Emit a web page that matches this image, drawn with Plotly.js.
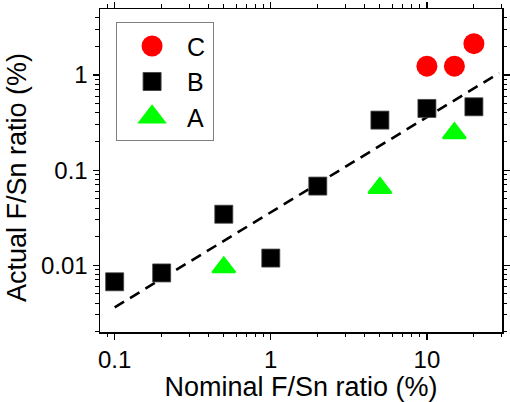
<!DOCTYPE html>
<html>
<head>
<meta charset="utf-8">
<script src="https://cdn.plot.ly/plotly-3.0.1.min.js"></script>
<style>
  html, body { margin: 0; padding: 0; background: #fff; }
  #chart { width: 510px; height: 402px; }
</style>
</head>
<body>
<div id="chart"></div>
<script>
// Data
const seriesNames = ["C", "B", "A"];
const xC = [10, 15, 20];
const yC = [1.24, 1.24, 2.14];
const xB = [0.1, 0.2, 0.5, 1, 2, 5, 10, 20];
const yB = [0.0067, 0.0083, 0.0344, 0.0119, 0.068, 0.336, 0.446, 0.464];
const xA = [0.5, 5, 15];
const yA = [0.0095, 0.065, 0.245];
const fitX = [0.1, 29];
const fitY = [0.0036, 1.05];

const FONT = "Liberation Sans, Arial, Helvetica, sans-serif";

const traces = [
  {
    x: fitX, y: fitY, mode: "lines", showlegend: false, hoverinfo: "skip",
    line: { color: "#000", width: 2.6, dash: "11px,7px" }
  },
  {
    x: xC, y: yC, name: seriesNames[0], mode: "markers",
    marker: { symbol: "circle", size: 21, color: "#ff0000", line: { width: 0 } }
  },
  {
    x: xB, y: yB, name: seriesNames[1], mode: "markers",
    marker: { symbol: "square", size: 18, color: "#000000", line: { width: 0.8, color: "#444" } }
  },
  {
    x: xA, y: yA, name: seriesNames[2], mode: "markers",
    marker: { symbol: "triangle-up", size: 20, color: "#00ff00", line: { width: 2, color: "#00ff00" } }
  }
];

const axisCommon = {
  type: "log",
  dtick: 1,
  showgrid: false,
  zeroline: false,
  showline: true,
  linecolor: "#000",
  linewidth: 1.5,
  mirror: "ticks",
  ticks: "outside",
  ticklen: 6,
  tickwidth: 1.3,
  tickcolor: "#000",
  tickfont: { family: FONT, size: 24, color: "#000" },
  minor: { ticks: "outside", ticklen: 3.5, tickwidth: 1, tickcolor: "#000", dtick: "D1", showgrid: false }
};

const layout = {
  width: 510,
  height: 402,
  margin: { l: 100, r: 8, t: 9, b: 70 },
  paper_bgcolor: "#fff",
  plot_bgcolor: "#fff",
  font: { family: FONT, size: 24, color: "#000" },
  showlegend: true,
  legend: {
    x: 0.04, y: 0.959, xanchor: "left", yanchor: "top",
    bordercolor: "#808080", borderwidth: 1, bgcolor: "#fff",
    font: { family: FONT, size: 25, color: "#000" },
    itemwidth: 60, tracegroupgap: 0, traceorder: "normal"
  },
  xaxis: Object.assign({}, axisCommon, {
    range: [-1.094, 1.481],
    title: { text: "Nominal F/Sn ratio (%)", font: { family: FONT, size: 27, color: "#000" }, standoff: 6 }
  }),
  yaxis: Object.assign({}, axisCommon, {
    range: [-2.702, 0.695],
    title: { text: "Actual F/Sn ratio (%)", font: { family: FONT, size: 27, color: "#000" }, standoff: 6 }
  })
};

Plotly.newPlot("chart", traces, layout, { displayModeBar: false, staticPlot: true }).then(function (gd) {
  // enlarge legend symbols to match the plotted marker sizes (legend caps them at 16px)
  const sizes = { C: 21 / 16, B: 18 / 16, A: 20 / 16 * 1.05 };
  gd.querySelectorAll(".legend .traces").forEach(function (tr) {
    const txt = tr.querySelector(".legendtext");
    const name = txt ? txt.textContent : "";
    const s = sizes[name] || 1;
    tr.querySelectorAll("path.scatterpts").forEach(function (p) {
      const t = p.getAttribute("transform") || "";
      p.setAttribute("transform", t + " scale(" + s + ")");
    });
  });
  // tighten the legend box on the right like the reference
  const bg = gd.querySelector(".legend rect.bg");
  if (bg) bg.setAttribute("width", 97);
  // y title sits slightly below the plot centre in the reference
  const yt = gd.querySelector(".g-ytitle");
  if (yt) yt.setAttribute("transform", "translate(0,7)");
});
</script>
</body>
</html>
